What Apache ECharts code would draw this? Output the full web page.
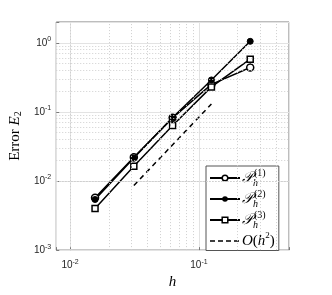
<!DOCTYPE html>
<html><head><meta charset="utf-8">
<script src="https://cdn.jsdelivr.net/npm/echarts@6/dist/echarts.min.js"></script>
<style>html,body{margin:0;padding:0;background:#fff}#c{width:332px;height:295px}</style>
</head><body><div id="c"></div>
<script>
var hValues = [1/64, 1/32, 1/16, 1/8, 1/4];
var errP1 = [0.0057, 0.022, 0.082, 0.25, 0.44];
var errP2 = [0.0054, 0.0215, 0.083, 0.29, 1.05];
var errP3 = [0.0040, 0.0163, 0.0636, 0.23, 0.58];
var refH = [1/32, 1/8];
var refErr = [0.0086, 0.13];
var xMinorGrid = [0.008, 0.009, 0.02, 0.03, 0.04, 0.05, 0.06, 0.07, 0.08, 0.09, 0.2, 0.3, 0.4];
var yMinorGrid = [0.002,0.003,0.004,0.005,0.006,0.007,0.008,0.009,0.02,0.03,0.04,0.05,0.06,0.07,0.08,0.09,0.2,0.3,0.4,0.5,0.6,0.7,0.8,0.9];

function pairs(xs, ys){ return xs.map(function(x,i){return [x, ys[i]];}); }
function powLabel(v){
  var e = Math.log10(v);
  if (Math.abs(e - Math.round(e)) < 1e-6) return '10{sup|' + Math.round(e) + '}';
  return '';
}
var tickLabel = {color:'#262626', fontFamily:'Liberation Sans', fontSize:10,
  formatter: powLabel, rich:{sup:{fontSize:7, verticalAlign:'top', padding:[0,0,7,0], fontFamily:'Liberation Sans', color:'#262626'}}};
var serif = 'Liberation Serif';
var legendRich = {
  p:{fontFamily:serif, fontSize:15, fontStyle:'italic', lineHeight:20, color:'#000'},
  h:{fontFamily:serif, fontSize:10, fontStyle:'italic', width:1, align:'left', verticalAlign:'bottom', color:'#000'},
  s:{fontFamily:serif, fontSize:10, verticalAlign:'top', color:'#000'},
  n:{fontFamily:serif, fontSize:15, lineHeight:20, color:'#000'},
  i:{fontFamily:serif, fontSize:15, fontStyle:'italic', lineHeight:20, color:'#000'},
  q:{fontFamily:serif, fontSize:9, verticalAlign:'top', color:'#000'}
};
function legendFmt(name){
  if (name === 'P1') return '{p|𝒫}{h|h}{s|(1)}';
  if (name === 'P2') return '{p|𝒫}{h|h}{s|(2)}';
  if (name === 'P3') return '{p|𝒫}{h|h}{s|(3)}';
  return '{i|O}{n|(}{i|h}{q|2}{n|)}';
}

var chart = echarts.init(document.getElementById('c'), null, {renderer:'canvas'});
chart.setOption({
  animation:false,
  backgroundColor:'#fff',
  grid:{left:54, right:43, top:22, bottom:38, show:true, borderColor:'#7a7a7a', borderWidth:1},
  xAxis:{type:'log', logBase:10, min:1/128, max:0.5,
    name:'h', nameLocation:'middle', nameGap:19,
    nameTextStyle:{fontFamily:serif, fontStyle:'italic', fontSize:15, color:'#000'},
    axisLine:{show:false}, axisTick:{show:true, inside:true, length:3, lineStyle:{color:'#7a7a7a'}},
    axisLabel:Object.assign({margin:8}, tickLabel),
    splitLine:{show:true, lineStyle:{color:'#e3e3e3', width:1}}},
  yAxis:{type:'log', logBase:10, min:0.001, max:2,
    name:'{a|Error }{e|E}{b|2}', nameLocation:'middle', nameGap:32, nameRotate:90,
    nameTextStyle:{rich:{
      a:{fontFamily:serif, fontSize:15, color:'#000'},
      e:{fontFamily:serif, fontSize:15, fontStyle:'italic', color:'#000'},
      b:{fontFamily:serif, fontSize:10, verticalAlign:'bottom', color:'#000'}}},
    axisLine:{show:false}, axisTick:{show:true, inside:true, length:3, lineStyle:{color:'#7a7a7a'}},
    axisLabel:Object.assign({margin:5}, tickLabel),
    splitLine:{show:true, lineStyle:{color:'#e3e3e3', width:1}}},
  legend:{data:[
      {name:'P1', itemStyle:{color:'#fff', borderColor:'#000', borderWidth:1.5}},
      {name:'P2', itemStyle:{color:'#000'}},
      {name:'P3', itemStyle:{color:'#fff', borderColor:'#000', borderWidth:1.5}},
      {name:'O', itemStyle:{opacity:0}, lineStyle:{type:[5,3], color:'#000', width:1.5}}],
    orient:'vertical', left:206, top:166, width:75,
    backgroundColor:'#fff', borderColor:'#555', borderWidth:1, padding:[2,4,2,3],
    itemWidth:30, itemHeight:7, itemGap:1,
    formatter:legendFmt, textStyle:{rich:legendRich, padding:[0,0,0,-3]}},
  series:[
    {type:'line', name:'minor', data:[], silent:true, z:1,
     markLine:{silent:true, symbol:'none', label:{show:false},
       lineStyle:{color:'#cfcfcf', type:[1,2], width:1},
       data: xMinorGrid.map(function(v){return {xAxis:v};}).concat(yMinorGrid.map(function(v){return {yAxis:v};}))}},
    {type:'line', name:'P1', data:pairs(hValues, errP1), symbol:'circle', symbolSize:7,
     lineStyle:{color:'#000', width:1.5}, itemStyle:{color:'#fff', borderColor:'#000', borderWidth:1.5}, z:3},
    {type:'line', name:'P2', data:pairs(hValues, errP2), symbol:'circle', symbolSize:6,
     lineStyle:{color:'#000', width:1.5}, itemStyle:{color:'#000', borderColor:'#000'}, z:3},
    {type:'line', name:'P3', data:pairs(hValues, errP3), symbol:'rect', symbolSize:6,
     lineStyle:{color:'#000', width:1.5}, itemStyle:{color:'#fff', borderColor:'#000', borderWidth:1.5}, z:3},
    {type:'line', name:'O', data:pairs(refH, refErr), symbol:'none',
     lineStyle:{color:'#000', width:1.5, type:[5,4]}, itemStyle:{color:'#000'}, z:3}
  ]
});
</script></body></html>
